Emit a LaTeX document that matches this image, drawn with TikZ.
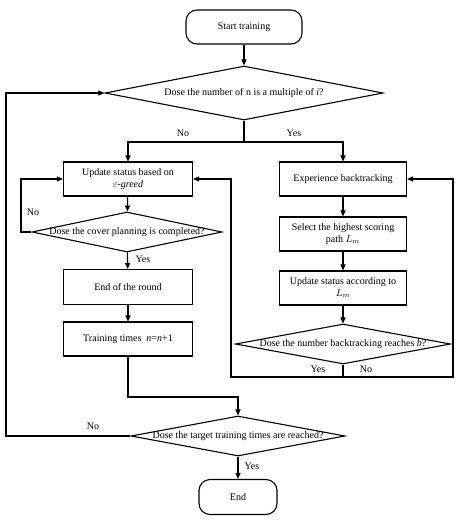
\documentclass[tikz,border=0pt]{standalone}
\usepackage{fontspec}
\usepackage{amsmath}
\setmainfont{Liberation Serif}
\usetikzlibrary{shapes.geometric,arrows.meta}

\begin{document}
\begin{tikzpicture}[x=1pt,y=-1pt,line width=1.1pt,
	every node/.style={font=\fontsize{10}{11.5}\selectfont},
	terminal/.style={draw,rounded corners=11pt,minimum width=#1,minimum height=34pt,inner sep=0pt},
	process/.style={draw,align=center,minimum width=129pt,minimum height=34pt,inner sep=1pt},
	decision/.style={draw,diamond,inner sep=0pt,minimum width=#1,minimum height=40pt},
	arr/.style={-{Triangle[length=6pt,width=5pt]}}]

	\useasboundingbox (0,0) rectangle (460,520);

	\node[terminal=116pt] (start) at (244,27) {Start training};
	\node[decision=278pt,minimum height=54pt] (q1) at (244,93) {\makebox[0pt]{Dose the number of n is a multiple of \textit{i}?}};

	\node[process] (upd) at (128,179) {Update status based on\\ $\varepsilon$\textit{-greed}};
	\node[decision=190pt] (q2) at (127,232) {\makebox[0pt]{Dose the cover planning is completed?}};
	\node[process,minimum height=35pt] (rnd) at (128,287) {End of the round};
	\node[process] (times) at (128,339) {Training times\ \ \textit{n}=\textit{n}+1};

	\node[process,minimum width=127pt] (exp) at (343,179) {Experience backtracking};
	\node[process,minimum width=127pt] (sel) at (343,234) {Select the highest scoring\\ path $L_m$};
	\node[process,minimum width=127pt] (upd2) at (343,288) {Update status according to\\ $L_m$};
	\node[decision=215pt] (q3) at (343,344) {\makebox[0pt]{Dose the number backtracking reaches \textit{b}?}};

	\node[decision=214pt] (q4) at (238,436) {\makebox[0pt]{Dose the target training times are reached?}};
	\node[terminal=78pt,minimum height=35pt] (end) at (238,497) {End};

	\coordinate (split) at (244,142);
	\coordinate (lb) at (231,377);
	\coordinate (rb) at (453,377);
	\coordinate (t4) at (238,397);
	\coordinate (lf) at (6,436);
	\coordinate (l2) at (21,232);

	\draw[arr] (start) -- (q1);
	\draw[arr] (q1.south) -- (split) -| (upd.north);
	\draw[arr] (q1.south) -- (split) -| (exp.north);

	\draw[arr] (upd) -- (q2);
	\draw[arr] (q2.west) -- (l2) |- (upd.west);
	\draw[arr] (q2) -- (rnd);
	\draw[arr] (rnd) -- (times);
	\draw[arr] (times.south) |- (t4) -- (q4.north);

	\draw[arr] (exp) -- (sel);
	\draw[arr] (sel) -- (upd2);
	\draw[arr] (upd2) -- (q3);
	\draw[arr] (q3.south) |- (lb) |- (upd.east);
	\draw[arr] (q3.south) |- (rb) |- (exp.east);

	\draw[arr] (q4.west) -- (lf) |- (q1.west);
	\draw[arr] (q4) -- (end);

	\node (no1) at (183,133) {No};
	\node (yes1) at (294,133) {Yes};
	\node (no2) at (33,212) {No};
	\node (yes2) at (143,259) {Yes};
	\node (yes3) at (318,369) {Yes};
	\node (no3) at (366,369) {No};
	\node (no4) at (93,426) {No};
	\node (yes4) at (252,466) {Yes};

\end{tikzpicture}
\end{document}
